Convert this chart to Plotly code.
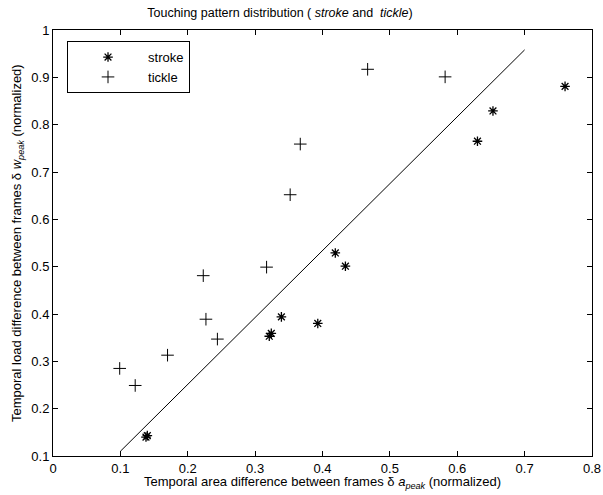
import plotly.graph_objects as go

stroke_x = [0.140, 0.138, 0.321, 0.324, 0.339, 0.393, 0.419, 0.434, 0.630, 0.653, 0.760]
stroke_y = [0.143, 0.140, 0.353, 0.359, 0.394, 0.380, 0.529, 0.501, 0.765, 0.829, 0.881]

tickle_x = [0.099, 0.122, 0.170, 0.223, 0.227, 0.244, 0.317, 0.352, 0.367, 0.467, 0.582]
tickle_y = [0.285, 0.249, 0.313, 0.481, 0.389, 0.347, 0.499, 0.652, 0.759, 0.917, 0.901]

line_x = [0.10, 0.70]
line_y = [0.11, 0.958]

x_ticks = [0, 0.1, 0.2, 0.3, 0.4, 0.5, 0.6, 0.7, 0.8]
x_tick_labels = ["0", "0.1", "0.2", "0.3", "0.4", "0.5", "0.6", "0.7", "0.8"]
y_ticks = [0.1, 0.2, 0.3, 0.4, 0.5, 0.6, 0.7, 0.8, 0.9, 1.0]
y_tick_labels = ["0.1", "0.2", "0.3", "0.4", "0.5", "0.6", "0.7", "0.8", "0.9", "1"]

FONT = "Liberation Sans, Arial, Helvetica, sans-serif"

fig = go.Figure()
fig.add_trace(go.Scatter(
    x=line_x, y=line_y, mode="lines", line=dict(color="black", width=1),
    showlegend=False, hoverinfo="skip"))
fig.add_trace(go.Scatter(
    x=stroke_x, y=stroke_y, mode="markers", name="stroke",
    marker=dict(symbol="asterisk-open", size=8, color="black",
                line=dict(color="black", width=1.3))))
fig.add_trace(go.Scatter(
    x=tickle_x, y=tickle_y, mode="markers", name="tickle",
    marker=dict(symbol="cross-thin-open", size=9, color="black",
                line=dict(color="black", width=1))))

axis_common = dict(
    showgrid=False, zeroline=False, showline=True, linecolor="black", linewidth=1,
    mirror="ticks", ticks="inside", ticklen=5, tickcolor="black", automargin=False,
    tickfont=dict(family=FONT, size=13, color="black"),
)

fig.update_layout(
    template="none",
    width=603, height=495,
    margin=dict(l=53, r=11, t=30, b=39, pad=0),
    paper_bgcolor="white", plot_bgcolor="white",
    font=dict(family=FONT, size=13, color="black"),
    title=dict(
        text="Touching pattern distribution ( <i>stroke</i> and  <i>tickle</i>)",
        xref="container", yref="container",
        x=280 / 603, xanchor="center", y=1 - 13 / 495, yanchor="middle",
        font=dict(family=FONT, size=12.5, color="black")),
    xaxis=dict(range=[0, 0.8], tickvals=x_ticks, ticktext=x_tick_labels, **axis_common),
    yaxis=dict(range=[0.1, 1.0], tickvals=y_ticks, ticktext=y_tick_labels, **axis_common),
    legend=dict(
        x=0.026, y=0.974, xanchor="left", yanchor="top",
        bgcolor="white", bordercolor="black", borderwidth=1,
        font=dict(family=FONT, size=13, color="black"),
        tracegroupgap=0, itemwidth=70),
    annotations=[
        dict(text="Temporal area difference between frames δ <i>a</i><sub><i>peak</i></sub> (normalized)",
             xref="paper", yref="paper", x=0.5, y=0, xanchor="center", yanchor="top",
             yshift=-16, showarrow=False, font=dict(family=FONT, size=13, color="black")),
        dict(text="Temporal load difference between frames δ <i>w</i><sub><i>peak</i></sub> (normalized)",
             xref="paper", yref="paper", x=0, y=0.5, xanchor="center", yanchor="middle",
             xshift=-36, textangle=-90, showarrow=False,
             font=dict(family=FONT, size=13, color="black")),
    ],
)

fig.write_html("out.html", config={"displayModeBar": False},
               post_script="document.body.style.margin='0';")
